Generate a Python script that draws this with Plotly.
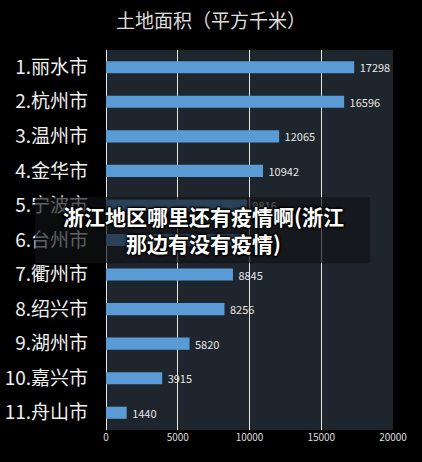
import plotly.graph_objects as go

cities = ["1.丽水市", "2.杭州市", "3.温州市", "4.金华市", "5.宁波市", "6.台州市",
          "7.衢州市", "8.绍兴市", "9.湖州市", "10.嘉兴市", "11.舟山市"]
areas = [17298, 16596, 12065, 10942, 9816, 9411, 8845, 8256, 5820, 3915, 1440]
x_ticks = [0, 5000, 10000, 15000, 20000]
chart_title = "土地面积（平方千米）"
overlay_text = "浙江地区哪里还有疫情啊(浙江<br>那边有没有疫情)"

FONT = "Noto Sans CJK SC, Microsoft YaHei, sans-serif"

fig = go.Figure(go.Bar(
    x=areas,
    y=cities,
    orientation="h",
    marker=dict(color="#5b9bd5", line=dict(width=0)),
    width=0.35,
    text=[f" {v}" for v in areas],
    textposition="outside",
    constraintext="none",
    textfont=dict(size=11, color="#e6e6e6", family=FONT),
    cliponaxis=False,
    hoverinfo="skip",
))

fig.update_layout(
    width=422,
    height=462,
    margin=dict(l=106, r=29, t=50, b=32, autoexpand=False),
    paper_bgcolor="#000000",
    plot_bgcolor="#1f252c",
    showlegend=False,
    title=dict(
        text=chart_title,
        x=0.5, xref="container", xanchor="center",
        y=0.953, yref="container", yanchor="middle",
        font=dict(size=19, color="#dddddd", family=FONT),
    ),
    xaxis=dict(
        range=[0, 20000],
        tickvals=x_ticks,
        ticktext=[str(v) for v in x_ticks],
        showgrid=True,
        gridcolor="#e8e8e8",
        gridwidth=1,
        zeroline=True,
        zerolinecolor="#e8e8e8",
        zerolinewidth=1,
        tickfont=dict(size=10, color="#dddddd", family=FONT),
        ticks="",
        showline=False,
        automargin=False,
        fixedrange=True,
    ),
    yaxis=dict(
        autorange="reversed",
        showgrid=False,
        tickfont=dict(size=19, color="#f0f0f0", family=FONT),
        ticks="",
        ticklabelstandoff=17,
        showline=False,
        automargin=False,
        fixedrange=True,
    ),
    shapes=[dict(
        type="rect", xref="paper", yref="paper",
        x0=-0.247, x1=0.92, y0=0.439, y1=0.613,
        fillcolor="rgba(16,18,21,0.66)", line=dict(width=0), layer="above",
    )],
    annotations=[dict(
        text=overlay_text,
        xref="paper", yref="paper",
        x=0.338, y=0.527, xanchor="center", yanchor="middle",
        showarrow=False, align="center",
        font=dict(size=21, color="#ffffff", family=FONT, weight="bold",
                  shadow="1px 1px 2px #000, -1px -1px 2px #000, 1px -1px 2px #000, -1px 1px 2px #000"),
    )],
)

fig.write_html(
    "out.html",
    config={"displayModeBar": False},
    post_script="document.body.style.margin='0';document.body.style.background='#000';"
                "document.documentElement.style.overflow='hidden';",
)
